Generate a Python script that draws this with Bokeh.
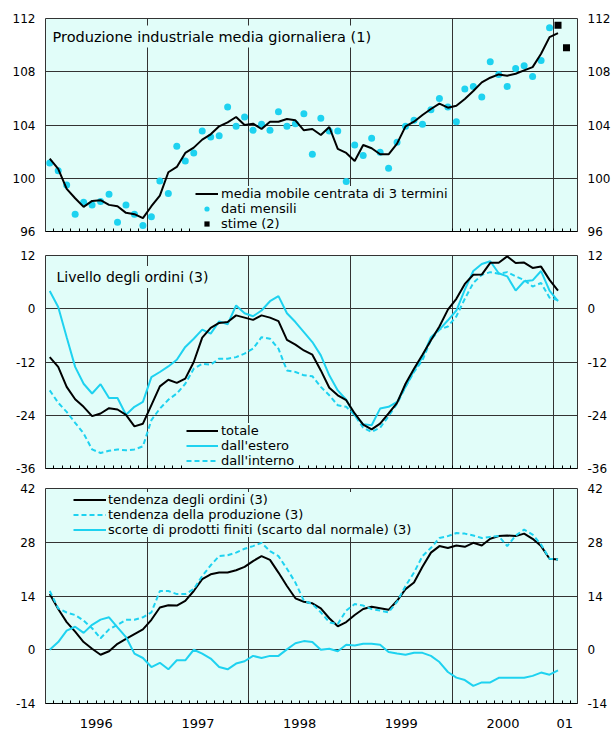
from bokeh.plotting import figure
from bokeh.models import Range1d, FixedTicker, LinearAxis, Legend, LegendItem, Label
from bokeh.layouts import column
from bokeh.embed import file_html
from bokeh.resources import INLINE

# ---------------- data ----------------
# months: 0 = Jan 1996 ... 60 = Jan 2001
months = list(range(61))
year_labels = ["1996", "1997", "1998", "1999", "2000", "01"]
year_label_pos = [6, 18, 30, 42, 54, 61.3]
year_bounds = [12, 24, 36, 48, 60]

# Panel 1: Produzione industriale media giornaliera (1)
prod_ma = [101.47, 100.7, 99.2, 98.5, 97.85, 98.3, 98.35, 98.0, 97.9, 97.4, 97.3, 97.0,
           97.9, 98.7, 100.45, 100.85, 101.9, 102.3, 102.9, 103.3, 103.9, 104.2, 104.6, 104.0,
           104.1, 103.7, 104.25, 104.25, 104.45, 104.35, 103.6, 103.7, 103.25, 103.85, 102.2, 101.9,
           101.3, 102.5, 102.25, 101.8, 101.8, 102.6, 103.9, 104.25, 104.75, 105.2, 105.6, 105.3,
           105.45, 105.95, 106.55, 107.2, 107.55, 107.8, 107.7, 107.85, 108.1, 108.35, 109.35, 110.6,
           110.9]
prod_monthly = [101.15, 100.57, 99.5, 97.3, 98.2, 98.0, 98.26, 98.8, 96.7, 98.0, 97.3, 96.45,
                97.1, 99.8, 98.85, 102.4, 101.3, 101.9, 103.55, 103.1, 103.2, 105.35, 103.9, 104.6,
                103.6, 104.05, 103.6, 105.0, 103.9, 104.1, 104.85, 101.8, 104.5, 103.55, 103.55, 99.75,
                102.5, 101.7, 103.0, 101.95, 100.75, 102.7, 103.9, 104.35, 104.05, 105.15, 106.0, 105.35,
                104.25, 106.7, 106.9, 106.1, 108.75, 107.8, 106.9, 108.25, 108.45, 107.65, 108.85, 111.3]
est_months = [60, 61]
prod_est = [111.5, 109.8]

# Panel 2: Livello degli ordini (3)
ord_totale = [-10.9, -13.1, -17.6, -20.4, -22.1, -24.2, -23.6, -22.4, -22.7, -23.9, -26.5, -25.9,
              -21.7, -17.5, -16.0, -16.7, -15.75, -12.0, -6.5, -4.3, -3.2, -3.0, -1.5, -2.0,
              -2.5, -1.5, -2.0, -2.8, -7.0, -8.1, -9.4, -10.35, -13.9, -17.8, -19.5, -20.6,
              -23.6, -26.1, -27.2, -25.9, -23.6, -21.2, -16.9, -13.5, -10.35, -7.1, -4.0, -0.2,
              2.25, 5.6, 7.65, 7.7, 10.35, 10.35, 11.8, 10.3, 10.4, 9.2, 9.5, 6.5,
              4.1]
ord_estero = [4.0, 0.4, -6.4, -13.1, -16.9, -19.1, -17.0, -20.1, -20.1, -23.9, -22.1, -21.0,
              -15.4, -14.25, -13.0, -11.5, -8.6, -6.75, -4.7, -5.6, -2.85, -3.5, 0.75, -1.0,
              -1.7, -0.4, 1.7, 2.85, -1.0, -3.0, -5.25, -7.5, -10.5, -15.0, -18.4, -20.5,
              -24.0, -26.0, -26.25, -22.5, -22.1, -21.0, -17.6, -13.9, -10.9, -6.4, -4.7, -2.6,
              -0.4, 4.3, 8.5, 10.1, 10.7, 8.0, 7.3, 4.1, 6.2, 6.4, 8.5, 4.1,
              1.7]
ord_interno = [-18.4, -21.2, -23.25, -25.7, -28.1, -31.7, -32.5, -32.0, -31.7, -31.9, -31.7, -31.0,
               -25.1, -22.5, -20.5, -19.1, -16.9, -13.5, -12.4, -12.6, -11.25, -11.25, -10.9, -10.1,
               -9.0, -6.4, -6.75, -9.0, -13.9, -14.25, -15.0, -15.2, -17.6, -19.5, -21.75, -22.1,
               -24.0, -26.8, -27.75, -26.8, -24.2, -21.4, -17.6, -14.25, -11.6, -7.0, -4.7, -4.0,
               -1.7, 2.25, 5.8, 7.65, 8.25, 7.9, 8.25, 7.3, 6.5, 5.0, 5.8, 2.5,
               1.9]

# Panel 3
tend_ordini = [14.5, 10.6, 7.2, 4.7, 2.0, 0.26, -1.3, -0.4, 1.55, 2.85, 4.1, 5.3,
               7.8, 11.0, 11.6, 11.5, 12.75, 15.3, 18.4, 19.65, 20.1, 20.1, 20.7, 21.6,
               23.1, 24.4, 23.4, 20.1, 16.6, 13.4, 12.5, 12.1, 10.8, 8.2, 6.1, 7.2,
               9.05, 10.6, 11.2, 10.8, 10.4, 12.75, 15.8, 17.5, 21.6, 25.3, 27.0, 26.5,
               27.15, 26.8, 27.85, 27.15, 28.9, 29.6, 29.75, 29.6, 30.25, 28.9, 27.0, 23.7,
               23.5]
tend_produzione = [15.3, 10.8, 9.7, 9.05, 7.6, 5.6, 3.0, 5.3, 6.5, 7.8, 7.8, 8.45,
                   9.75, 15.3, 15.3, 14.5, 14.5, 15.8, 19.2, 22.0, 24.4, 24.6, 25.3, 26.3,
                   27.0, 27.85, 25.7, 24.4, 21.1, 17.5, 12.75, 11.9, 9.75, 7.15, 6.7, 10.2,
                   11.9, 11.5, 10.6, 10.2, 9.75, 12.5, 16.6, 20.1, 24.4, 26.55, 29.1, 29.6,
                   30.4, 30.25, 29.75, 29.1, 29.4, 29.6, 27.0, 29.75, 31.3, 30.0, 27.4, 23.7,
                   23.5]
scorte = [0.0, 2.0, 5.0, 6.0, 4.4, 6.5, 7.85, 8.45, 5.85, 3.3, -1.0, -2.15,
          -4.5, -3.4, -5.1, -2.75, -2.75, 0.0, -1.0, -2.3, -4.5, -5.1, -3.6, -3.0,
          -1.6, -2.15, -1.6, -1.6, 0.1, 1.7, 2.25, 2.0, 0.0, 0.25, -0.4, 1.3,
          1.1, 1.55, 1.55, 1.3, -0.6, -1.0, -1.3, -0.8, -0.8, -1.6, -3.2, -5.8,
          -7.25, -7.9, -9.4, -8.5, -8.5, -7.3, -7.3, -7.3, -7.3, -6.8, -5.95, -6.5,
          -5.35]

ticks_p1 = [96, 100, 104, 108, 112]
ticks_p2 = [-36, -24, -12, 0, 12]
ticks_p3 = [-14, 0, 14, 28, 42]

# ---------------- style ----------------
BG = "#E1FDF9"
CYAN = "#1ED2F0"
GRID = "#333333"
FONT = "DejaVu Sans"

x = [m + 0.5 for m in months]
x_monthly = [m + 0.5 for m in months[:60]]
x_est = [m + 0.5 for m in est_months]


def make_panel(ticks, fh, top, bottom, show_years):
    p = figure(frame_width=532, frame_height=fh,
               x_range=Range1d(0, 62.8), y_range=Range1d(ticks[0], ticks[-1]),
               output_backend="svg", toolbar_location=None,
               min_border_left=45, min_border_right=34,
               min_border_top=top, min_border_bottom=bottom)
    p.background_fill_color = BG
    p.border_fill_color = "white"
    p.outline_line_color = GRID
    p.outline_line_width = 1

    xa = p.xaxis[0]
    if show_years:
        xa.ticker = FixedTicker(ticks=year_label_pos, minor_ticks=list(range(1, 63)))
        xa.major_label_overrides = {k: v for k, v in zip(year_label_pos, year_labels)}
    else:
        xa.ticker = FixedTicker(ticks=[], minor_ticks=list(range(1, 63)))
    xa.major_tick_line_color = None
    xa.major_tick_in = 0
    xa.major_tick_out = 0
    xa.minor_tick_in = 3
    xa.minor_tick_out = 0
    xa.minor_tick_line_color = "black"
    xa.axis_line_color = "black"
    xa.major_label_standoff = 15
    xa.major_label_text_font = FONT
    xa.major_label_text_font_size = "13px"
    xa.major_label_text_color = "black"

    ya = p.yaxis[0]
    ya.ticker = FixedTicker(ticks=ticks)
    ra = LinearAxis(ticker=FixedTicker(ticks=ticks))
    p.add_layout(ra, "right")
    for a in (ya, ra):
        a.major_label_overrides = {t: str(t) for t in ticks}
        a.axis_line_color = None
        a.major_tick_line_color = None
        a.major_tick_in = 0
        a.major_tick_out = 0
        a.minor_tick_line_color = None
        a.minor_tick_in = 0
        a.minor_tick_out = 0
        a.major_label_standoff = 10
        a.major_label_text_font = FONT
        a.major_label_text_font_size = "12px"
        a.major_label_text_color = "black"

    p.xgrid.ticker = FixedTicker(ticks=year_bounds)
    p.ygrid.ticker = FixedTicker(ticks=ticks)
    for g in (p.xgrid, p.ygrid):
        g.grid_line_color = GRID
        g.grid_line_width = 1
        g.grid_line_alpha = 1
    return p


def style_legend(lg, gw, pad, standoff, spacing):
    lg.glyph_width = gw
    lg.glyph_height = 13
    lg.label_height = 13
    lg.label_standoff = standoff
    lg.padding = pad
    lg.spacing = spacing
    lg.margin = 0
    lg.background_fill_color = BG
    lg.background_fill_alpha = 1
    lg.border_line_color = None
    lg.label_text_font = FONT
    lg.label_text_font_size = "13px"
    lg.label_text_line_height = 1.0
    lg.label_text_color = "black"


# ---------- panel 1 ----------
p1 = make_panel(ticks_p1, 213, 18, 12, False)
r_dots = p1.scatter(x_monthly, prod_monthly, marker="circle", size=7,
                    fill_color=CYAN, line_color=None)
r_ma = p1.line(x, prod_ma, line_color="black", line_width=2)
r_sq = p1.scatter(x_est, prod_est, marker="square", size=7,
                  fill_color="black", line_color=None)
lg1 = Legend(items=[LegendItem(label="media mobile centrata di 3 termini", renderers=[r_ma]),
                    LegendItem(label="dati mensili", renderers=[r_dots]),
                    LegendItem(label="stime (2)", renderers=[r_sq])],
             location=(150, 0))
style_legend(lg1, 23, 4, 3, -2)
p1.add_layout(lg1)
p1.add_layout(Label(x=4, y=195, x_units="screen", y_units="screen",
                    text="Produzione industriale media giornaliera (1)",
                    text_font=FONT, text_font_size="14.5px", text_baseline="middle",
                    text_color="black",
                    background_fill_color=BG, background_fill_alpha=1, padding=3))

# ---------- panel 2 ----------
p2 = make_panel(ticks_p2, 213, 12, 10, False)
r_int = p2.line(x, ord_interno, line_color=CYAN, line_width=2, line_dash="5 3")
r_est = p2.line(x, ord_estero, line_color=CYAN, line_width=2)
r_tot = p2.line(x, ord_totale, line_color="black", line_width=2)
lg2 = Legend(items=[LegendItem(label="totale", renderers=[r_tot]),
                    LegendItem(label="dall'estero", renderers=[r_est]),
                    LegendItem(label="dall'interno", renderers=[r_int])],
             location=(141, 0))
style_legend(lg2, 32, 8, 3, -1)
p2.add_layout(lg2)
p2.add_layout(Label(x=8, y=191.5, x_units="screen", y_units="screen",
                    text="Livello degli ordini (3)",
                    text_font=FONT, text_font_size="14px", text_baseline="middle",
                    text_color="black",
                    background_fill_color=BG, background_fill_alpha=1, padding=3))

# ---------- panel 3 ----------
p3 = make_panel(ticks_p3, 215, 10, 28, True)
r_to = p3.line(x, tend_ordini, line_color="black", line_width=2)
r_tp = p3.line(x, tend_produzione, line_color=CYAN, line_width=2, line_dash="5 3")
r_sc = p3.line(x, scorte, line_color=CYAN, line_width=2)
lg3 = Legend(items=[LegendItem(label="tendenza degli ordini (3)", renderers=[r_to]),
                    LegendItem(label="tendenza della produzione (3)", renderers=[r_tp]),
                    LegendItem(label="scorte di prodotti finiti (scarto dal normale) (3)",
                               renderers=[r_sc])],
             location=(28, 166))
style_legend(lg3, 33, 3, 2, -2)
p3.add_layout(lg3)

layout = column(p1, p2, p3, spacing=0)
open("out.html", "w").write(file_html(layout, INLINE))
